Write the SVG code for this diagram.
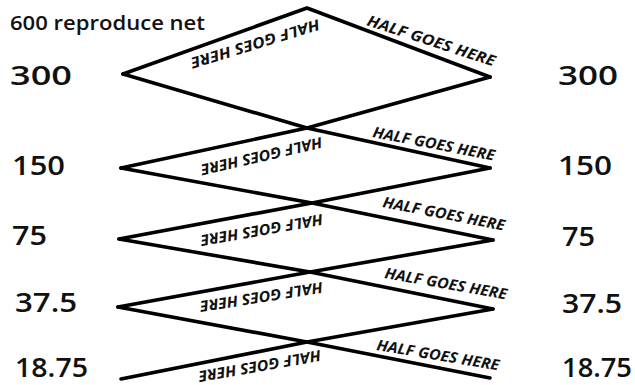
<svg xmlns="http://www.w3.org/2000/svg" width="635" height="385" viewBox="0 0 635 385">
<style>
.ln{fill:none;stroke:#000;stroke-width:3.6;stroke-linecap:round;stroke-linejoin:round}
.num{font-family:"Open Sans","DejaVu Sans",sans-serif;font-size:27px;font-weight:600;fill:#111}
.ttl{font-family:"Open Sans","DejaVu Sans",sans-serif;font-size:20px;font-weight:600;fill:#111}
.h{font-family:"Open Sans","DejaVu Sans",sans-serif;font-size:15px;font-weight:700;font-style:italic;fill:#111}
</style>
<rect width="635" height="385" fill="#fff"/>
<g id="connectors">
<polyline class="ln" points="123,74 307,8 490,77"/>
<polyline class="ln" points="123,74 307,128 490,168"/>
<polyline class="ln" points="490,77 307,128 121,168"/>
<polyline class="ln" points="121,168 312,203 493,240"/>
<polyline class="ln" points="490,168 312,203 119,239"/>
<polyline class="ln" points="119,239 310,272 493,309"/>
<polyline class="ln" points="493,240 310,272 118,307"/>
<polyline class="ln" points="118,307 307,342 490,378"/>
<polyline class="ln" points="493,309 307,342 121,379"/>
</g>
<g id="title"><text class="ttl" x="10" y="30" textLength="195" lengthAdjust="spacingAndGlyphs">600 reproduce net</text></g>
<g id="left-labels">
<text class="num" x="10" y="85" textLength="62" lengthAdjust="spacingAndGlyphs">300</text>
<text class="num" x="12" y="175" textLength="53" lengthAdjust="spacingAndGlyphs">150</text>
<text class="num" x="12" y="245" textLength="35" lengthAdjust="spacingAndGlyphs">75</text>
<text class="num" x="15" y="312" textLength="62" lengthAdjust="spacingAndGlyphs">37.5</text>
<text class="num" x="15" y="377" font-size="26" textLength="73" lengthAdjust="spacingAndGlyphs">18.75</text>
</g>
<g id="right-labels">
<text class="num" x="558" y="85" textLength="60" lengthAdjust="spacingAndGlyphs">300</text>
<text class="num" x="558" y="175" textLength="54" lengthAdjust="spacingAndGlyphs">150</text>
<text class="num" x="562" y="246" textLength="33" lengthAdjust="spacingAndGlyphs">75</text>
<text class="num" x="562" y="313" textLength="60" lengthAdjust="spacingAndGlyphs">37.5</text>
<text class="num" x="562" y="377" font-size="26" textLength="70" lengthAdjust="spacingAndGlyphs">18.75</text>
</g>
<g id="half-labels-right">
<text class="h" transform="translate(366,25) rotate(18)" textLength="134" lengthAdjust="spacingAndGlyphs">HALF GOES HERE</text>
<text class="h" transform="translate(372,137) rotate(11)" textLength="124" lengthAdjust="spacingAndGlyphs">HALF GOES HERE</text>
<text class="h" transform="translate(382,207) rotate(11)" textLength="124" lengthAdjust="spacingAndGlyphs">HALF GOES HERE</text>
<text class="h" transform="translate(384,278) rotate(10)" textLength="124" lengthAdjust="spacingAndGlyphs">HALF GOES HERE</text>
<text class="h" transform="translate(376,350) rotate(9.5)" textLength="124" lengthAdjust="spacingAndGlyphs">HALF GOES HERE</text>
</g>
<g id="half-labels-left">
<text class="h" transform="translate(318,19) rotate(163)" textLength="134" lengthAdjust="spacingAndGlyphs">HALF GOES HERE</text>
<text class="h" transform="translate(321,137) rotate(167)" textLength="124" lengthAdjust="spacingAndGlyphs">HALF GOES HERE</text>
<text class="h" transform="translate(322,214) rotate(170)" textLength="124" lengthAdjust="spacingAndGlyphs">HALF GOES HERE</text>
<text class="h" transform="translate(322,282) rotate(171)" textLength="124" lengthAdjust="spacingAndGlyphs">HALF GOES HERE</text>
<text class="h" transform="translate(320,350) rotate(170)" textLength="124" lengthAdjust="spacingAndGlyphs">HALF GOES HERE</text>
</g>
</svg>
